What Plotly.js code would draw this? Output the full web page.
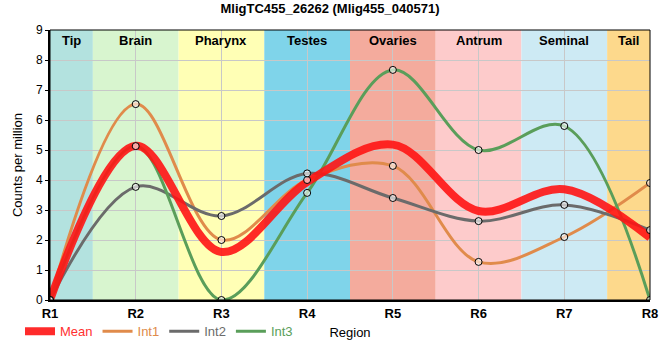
<!DOCTYPE html>
<html><head><meta charset="utf-8">
<script src="https://cdn.plot.ly/plotly-3.0.1.min.js"></script>
<style>body{margin:0}#c{width:660px;height:360px}</style>
</head><body><div id="c"></div>
<script>
const regions = ["R1","R2","R3","R4","R5","R6","R7","R8"];
const int1 = [0, 6.53, 2.0, 4.0, 4.47, 1.27, 2.1, 3.9];
const int2 = [0, 3.77, 2.8, 4.22, 3.4, 2.63, 3.17, 2.33];
const int3 = [0, 5.13, 0, 3.57, 7.67, 5.0, 5.8, 0];
const mean = int1.map((v,i)=>(v+int2[i]+int3[i])/3);
const bandNames = ["Tip","Brain","Pharynx","Testes","Ovaries","Antrum","Seminal","Tail"];
const bandColors = ["#b3e2df","#d8f5cf","#ffffb5","#7fd4ea","#f4ab9d","#fdcbcb","#cdeaf4","#fdd98c"];

const xs = regions.map((_,i)=>i);
const sp = {shape:'spline', smoothing:1};
const traces = [
  {x:xs,y:int1,mode:'lines',name:'<span style="color:#e08b4b">Int1</span>',line:Object.assign({color:'#e08b4b',width:3},sp),legendrank:2},
  {x:xs,y:int2,mode:'lines',name:'<span style="color:#6b6b6b">Int2</span>',line:Object.assign({color:'#6b6b6b',width:3},sp),legendrank:3},
  {x:xs,y:int3,mode:'lines',name:'<span style="color:#5a9e5a">Int3</span>',line:Object.assign({color:'#5a9e5a',width:3},sp),legendrank:4},
  {x:xs,y:mean,mode:'lines',name:'<span style="color:#ff3030">Mean</span>',line:Object.assign({color:'rgba(255,20,20,0.9)',width:8},sp),legendrank:1},
];
[int1,int2,int3].forEach(s=>traces.push({x:xs,y:s,mode:'markers',showlegend:false,
  marker:{size:7,color:'rgba(255,255,255,0.6)',line:{color:'#000',width:1}}}));

const shapes = bandColors.map((c,i)=>({type:'rect',xref:'x',yref:'paper',
  x0:Math.max(0,i-0.5),x1:Math.min(7,i+0.5),y0:0,y1:1,fillcolor:c,line:{width:0},layer:'below'}));
shapes.push({type:'rect',xref:'paper',yref:'paper',x0:0,x1:1,y0:0,y1:1,line:{color:'#000',width:1}});
const annotations = bandNames.map((n,i)=>({xref:'x',yref:'paper',x:i===0?0.25:(i===7?6.75:i),y:1,yanchor:'top',
  yshift:-1,text:'<b>'+n+'</b>',showarrow:false,font:{size:13,color:'#000',family:'Liberation Sans, Arial'}}));

const layout = {
  width:660,height:360,margin:{l:50,r:10,t:30,b:60,autoexpand:false},
  paper_bgcolor:'#fff',plot_bgcolor:'#fff',
  font:{family:'Liberation Sans, Arial',size:12,color:'#000'},
  title:{text:'<b>MligTC455_26262 (Mlig455_040571)</b>',x:0.5,xanchor:'center',y:0.99,yanchor:'top',font:{size:13}},
  xaxis:{range:[0,7],tickvals:xs,ticktext:regions.map(r=>'<b>'+r+'</b>'),showgrid:true,gridcolor:'#c8c8c8',
    zeroline:false,showline:true,linecolor:'#000',linewidth:2,ticks:'',tickfont:{size:13},
    title:{text:'Region',font:{size:13},standoff:8}},
  yaxis:{range:[0,9],dtick:1,showgrid:true,gridcolor:'#c8c8c8',zeroline:false,showline:true,linecolor:'#000',linewidth:2,
    ticks:'outside',ticklen:3,tickcolor:'#000',tickfont:{size:12},title:{text:'Counts per million',font:{size:13},standoff:10}},
  legend:{orientation:'h',x:-0.05,xanchor:'left',y:-0.06,yanchor:'top',font:{size:13},traceorder:'normal',
    itemwidth:30,bgcolor:'rgba(0,0,0,0)'},
  shapes:shapes,annotations:annotations,showlegend:true
};
Plotly.newPlot('c',traces,layout,{displayModeBar:false,staticPlot:true});
</script></body></html>
